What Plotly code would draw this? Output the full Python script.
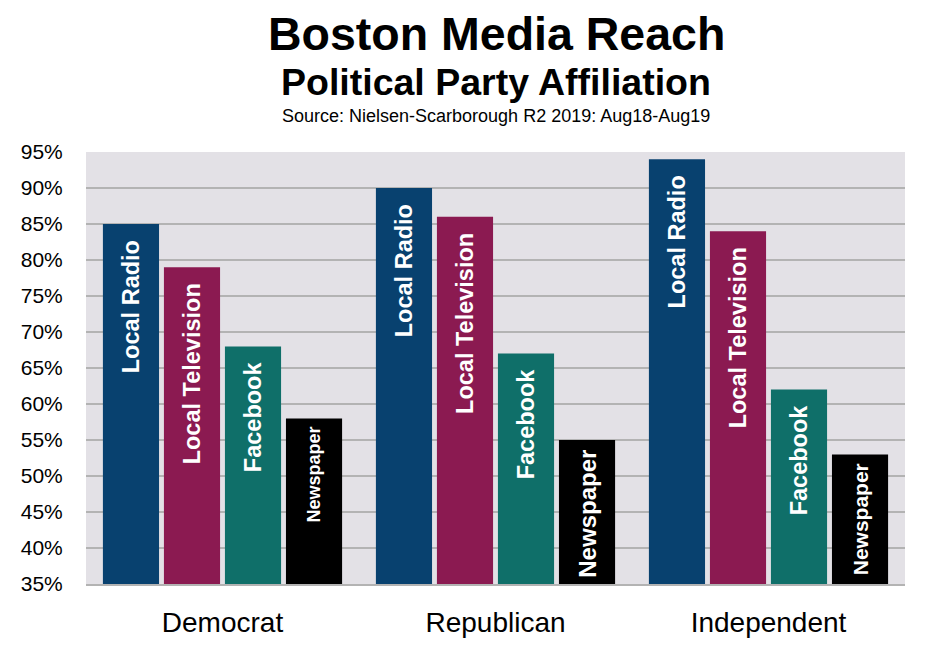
import plotly.graph_objects as go

categories = ["Democrat", "Republican", "Independent"]
media = ["Local Radio", "Local Television", "Facebook", "Newspaper"]
local_radio = [85, 90, 94]
local_tv = [79, 86, 84]
facebook = [68, 67, 62]
newspaper = [58, 55, 53]
series_values = [local_radio, local_tv, facebook, newspaper]
colors = ["#08416f", "#8b1a51", "#0f6f69", "#000000"]
label_sizes = [[23.5] * 3, [23.5] * 3, [23.5] * 3, [18, 24, 21]]
label_pad = [2, 2, 2, 1]
y_ticks = list(range(35, 100, 5))
y_tick_labels = [f"{v}%" for v in y_ticks]

FONT = "Liberation Sans, Arial, sans-serif"
BASE = 35
NBSP = "\u00a0"

fig = go.Figure()
for name, vals, col, fs, pad in zip(media, series_values, colors, label_sizes, label_pad):
    fig.add_trace(go.Bar(
        x=categories, y=[v - BASE for v in vals], base=BASE, name=name,
        marker=dict(color=col, line=dict(width=0)),
        text=[name + NBSP * pad] * len(vals),
        textposition="inside",
        insidetextanchor="end",
        textangle=-90,
        textfont=dict(family=FONT, size=fs, color="white", weight="bold"),
        hoverinfo="skip",
    ))

fig.update_layout(
    width=952, height=647,
    barmode="group",
    bargap=0.106,
    bargroupgap=0.08,
    showlegend=False,
    paper_bgcolor="white",
    plot_bgcolor="#e3e1e6",
    margin=dict(l=86, r=47, t=152, b=63),
    font=dict(family=FONT, color="black"),
)
fig.update_yaxes(
    range=[35, 95], automargin=False,
    tickvals=y_ticks, ticktext=y_tick_labels,
    tickfont=dict(size=21, family=FONT),
    showgrid=True, gridcolor="#b3b3b3", gridwidth=1.5,
    ticks="outside", ticklen=18, tickcolor="rgba(0,0,0,0)",
    zeroline=False, showline=False,
)
fig.update_xaxes(
    automargin=False,
    tickfont=dict(size=28, family=FONT),
    ticks="outside", ticklen=13, tickcolor="rgba(0,0,0,0)",
    showline=True, linecolor="#b3b3b3", linewidth=1.5,
)

plot_h = 647 - 152 - 63
def py(px):
    return 1 + (152 - px) / plot_h
xc = (496 - 86) / (952 - 86 - 47)

fig.add_annotation(text="<b>Boston Media Reach</b>", x=xc, y=py(34), xref="paper", yref="paper",
                   yanchor="middle", showarrow=False, font=dict(size=46.5, family=FONT))
fig.add_annotation(text="<b>Political Party Affiliation</b>", x=xc, y=py(82), xref="paper", yref="paper",
                   yanchor="middle", showarrow=False, font=dict(size=37.5, family=FONT))
fig.add_annotation(text="Source: Nielsen-Scarborough R2 2019: Aug18-Aug19", x=xc, y=py(116), xref="paper", yref="paper",
                   yanchor="middle", showarrow=False, font=dict(size=18, family=FONT))

fig.write_html("out.html", config={"displayModeBar": False},
               post_script="document.body.style.margin='0px';document.body.style.overflow='hidden';")
